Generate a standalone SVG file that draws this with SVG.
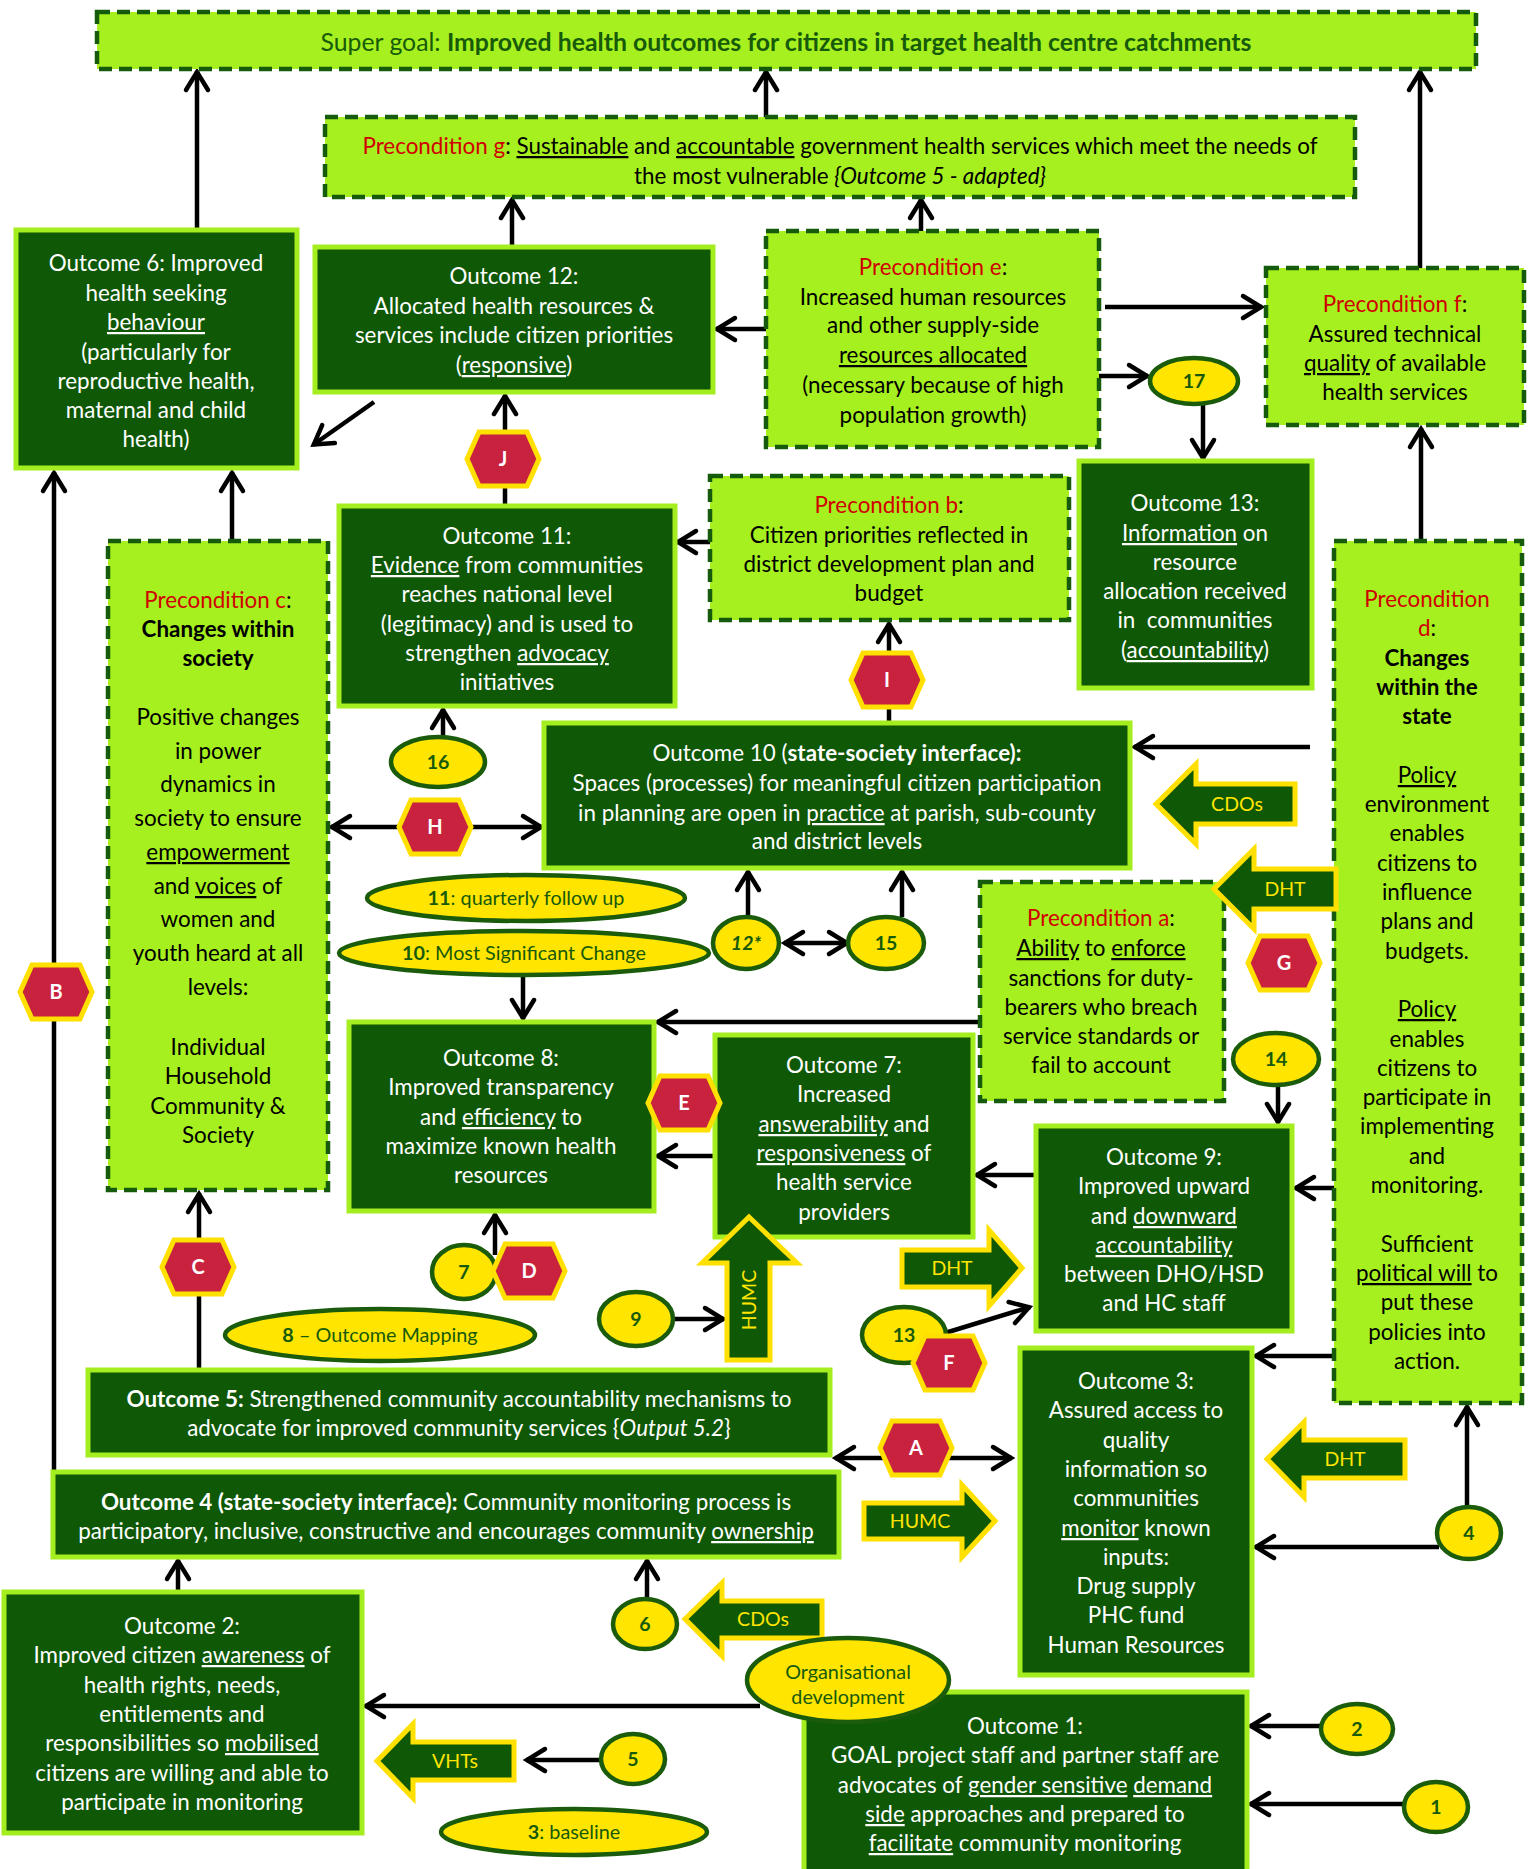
<svg xmlns="http://www.w3.org/2000/svg" width="1536" height="1869" viewBox="0 0 1536 1869">
<style>
text{font-family:Lato,"Liberation Sans",sans-serif;font-size:22.4px;text-anchor:middle}
.dk{fill:#0F5806;stroke:#A4EE1F;stroke-width:5}
.lm{fill:#A6F01F;stroke:#165A0B;stroke-width:4.5;stroke-dasharray:13 7}
.w{fill:#fff}
.k{fill:#000}
.r{fill:#D00000}
.g{fill:#165A0A}
.y{fill:#FFE500}
.el{fill:#FFE500;stroke:#1A5C0B;stroke-width:4.5}
.hx{fill:#C9223F;stroke:#FFE000;stroke-width:5}
.ba{fill:#0F5806;stroke:#FFE000;stroke-width:5}
.c{stroke:#000;stroke-width:4.5;fill:none;marker-end:url(#ah)}
.d2{marker-start:url(#ah)}
.u{text-decoration:underline}
.bd{font-weight:bold}
.it{font-style:italic}
.n{font-size:19.5px;font-weight:bold;fill:#165A0A}
.s{font-size:19.8px;fill:#165A0A}
.hl{font-size:20px;font-weight:bold;fill:#fff}
.bt{font-size:19.5px;fill:#FFE500}
</style>
<defs>
<marker id="ah" markerUnits="userSpaceOnUse" viewBox="-24 -14 28 28" markerWidth="28" markerHeight="28" refX="0" refY="0" orient="auto-start-reverse" overflow="visible">
<path d="M-19,-11 L-1,0 L-19,11" fill="none" stroke="#000" stroke-width="4.5" stroke-linecap="round"/>
</marker>
<path id="hex" d="M-36,0 L-24,-27 L24,-27 L36,0 L24,27 L-24,27 Z"/>
</defs>
<rect width="1536" height="1869" fill="#fff"/>

<g id="connectors">
<path class="c" d="M766,117 L766,71"/>
<path class="c" d="M197,230 L197,71"/>
<path class="c" d="M1420,268 L1420,71"/>
<path class="c" d="M512,247 L512,199"/>
<path class="c" d="M921,231 L921,199"/>
<path class="c" d="M766,329 L716,329"/>
<path class="c" d="M374,402 L313,445"/>
<path class="c" d="M1105,307 L1262,307"/>
<path class="c" d="M1099,376 L1148,376"/>
<path class="c" d="M1203,405 L1203,459"/>
<path class="c" d="M1421,541 L1421,428"/>
<path class="c" d="M505,506 L505,395"/>
<path class="c" d="M710,542 L677,542"/>
<path class="c" d="M889,723 L889,623"/>
<path class="c" d="M443,737 L443,709"/>
<path class="c" d="M232,541 L232,472"/>
<path class="c" d="M54,1472 L54,472"/>
<path class="c d2" d="M331,827 L542,827"/>
<path class="c" d="M1310,747 L1134,747"/>
<path class="c" d="M748,917 L748,871"/>
<path class="c" d="M902,917 L902,871"/>
<path class="c d2" d="M784,943 L848,943"/>
<path class="c" d="M523,977 L523,1019"/>
<path class="c" d="M980,1022 L657,1022"/>
<path class="c" d="M1278,1085 L1278,1123"/>
<path class="c" d="M1334,1188 L1295,1188"/>
<path class="c" d="M1036,1175 L976,1175"/>
<path class="c" d="M713,1156 L657,1156"/>
<path class="c" d="M495,1255 L495,1214"/>
<path class="c" d="M673,1319 L724,1319"/>
<path class="c" d="M945,1333 L1030,1307"/>
<path class="c" d="M199,1368 L199,1193"/>
<path class="c d2" d="M835,1458 L1012,1458"/>
<path class="c" d="M1334,1356 L1255,1356"/>
<path class="c" d="M1439,1547 L1255,1547"/>
<path class="c" d="M1467,1507 L1467,1406"/>
<path class="c" d="M647,1599 L647,1560"/>
<path class="c" d="M178,1592 L178,1560"/>
<path class="c" d="M760,1706 L365,1706"/>
<path class="c" d="M601,1760 L526,1760"/>
<path class="c" d="M1321,1726 L1250,1726"/>
<path class="c" d="M1404,1804 L1250,1804"/>
</g>

<g id="n-supergoal">
<rect class="lm" x="97" y="12" width="1379" height="57"/>
<text x="786" y="51" class="g" style="font-size:24.8px">Super goal: <tspan class="bd">Improved health outcomes for citizens in target health centre catchments</tspan></text>
</g>

<g id="n-precg">
<rect class="lm" x="325" y="117" width="1030" height="80"/>
<text x="840" y="154" class="k"><tspan class="r">Precondition g</tspan>: <tspan class="u">Sustainable</tspan> and <tspan class="u">accountable</tspan> government health services which meet the needs of</text>
<text x="840" y="184" class="k">the most vulnerable <tspan class="it">{Outcome 5 - adapted}</tspan></text>
</g>

<g id="n-out6">
<rect class="dk" x="16" y="230" width="281" height="238"/>
<text class="w" x="156" y="271">Outcome 6: Improved</text>
<text class="w" x="156" y="301">health seeking</text>
<text class="w" x="156" y="330"><tspan class="u">behaviour</tspan></text>
<text class="w" x="156" y="360">(particularly for</text>
<text class="w" x="156" y="389">reproductive health,</text>
<text class="w" x="156" y="418">maternal and child</text>
<text class="w" x="156" y="447">health)</text>
</g>

<g id="n-out12">
<rect class="dk" x="315" y="247" width="398" height="145"/>
<text class="w" x="514" y="284">Outcome 12:</text>
<text class="w" x="514" y="314">Allocated health resources &amp;</text>
<text class="w" x="514" y="343">services include citizen priorities</text>
<text class="w" x="514" y="373">(<tspan class="u">responsive</tspan>)</text>
</g>

<g id="n-prece">
<rect class="lm" x="766" y="231" width="333" height="216"/>
<text class="k" x="933" y="275"><tspan class="r">Precondition e</tspan>:</text>
<text class="k" x="933" y="305">Increased human resources</text>
<text class="k" x="933" y="333">and other supply-side</text>
<text class="k" x="933" y="363"><tspan class="u">resources allocated</tspan></text>
<text class="k" x="933" y="393">(necessary because of high</text>
<text class="k" x="933" y="423">population growth)</text>
</g>

<g id="n-precf">
<rect class="lm" x="1266" y="268" width="258" height="157"/>
<text class="k" x="1395" y="312"><tspan class="r">Precondition f</tspan>:</text>
<text class="k" x="1395" y="342">Assured technical</text>
<text class="k" x="1395" y="371"><tspan class="u">quality</tspan> of available</text>
<text class="k" x="1395" y="400">health services</text>
</g>

<g id="n-out13">
<rect class="dk" x="1079" y="461" width="233" height="227"/>
<text class="w" x="1195" y="511">Outcome 13:</text>
<text class="w" x="1195" y="541"><tspan class="u">Information</tspan> on</text>
<text class="w" x="1195" y="570">resource</text>
<text class="w" x="1195" y="599">allocation received</text>
<text class="w" x="1195" y="628" xml:space="preserve">in  communities</text>
<text class="w" x="1195" y="658">(<tspan class="u">accountability</tspan>)</text>
</g>

<g id="n-precd">
<rect class="lm" x="1334" y="541" width="188" height="862"/>
<text class="r" x="1427" y="607">Precondition</text>
<text class="k" x="1427" y="636"><tspan class="r">d</tspan>:</text>
<text class="k bd" x="1427" y="666">Changes</text>
<text class="k bd" x="1427" y="695">within the</text>
<text class="k bd" x="1427" y="724">state</text>
<text class="k" x="1427" y="783"><tspan class="u">Policy</tspan></text>
<text class="k" x="1427" y="812">environment</text>
<text class="k" x="1427" y="841">enables</text>
<text class="k" x="1427" y="871">citizens to</text>
<text class="k" x="1427" y="900">influence</text>
<text class="k" x="1427" y="929">plans and</text>
<text class="k" x="1427" y="959">budgets.</text>
<text class="k" x="1427" y="1017"><tspan class="u">Policy</tspan></text>
<text class="k" x="1427" y="1047">enables</text>
<text class="k" x="1427" y="1076">citizens to</text>
<text class="k" x="1427" y="1105">participate in</text>
<text class="k" x="1427" y="1134">implementing</text>
<text class="k" x="1427" y="1164">and</text>
<text class="k" x="1427" y="1193">monitoring.</text>
<text class="k" x="1427" y="1252">Sufficient</text>
<text class="k" x="1427" y="1281"><tspan class="u">political will</tspan> to</text>
<text class="k" x="1427" y="1310">put these</text>
<text class="k" x="1427" y="1340">policies into</text>
<text class="k" x="1427" y="1369">action.</text>
</g>

<g id="n-precc">
<rect class="lm" x="108" y="541" width="220" height="649"/>
<text class="k" x="218" y="608"><tspan class="r">Precondition c</tspan>:</text>
<text class="k bd" x="218" y="637">Changes within</text>
<text class="k bd" x="218" y="666">society</text>
<text class="k" x="218" y="725">Positive changes</text>
<text class="k" x="218" y="759">in power</text>
<text class="k" x="218" y="792">dynamics in</text>
<text class="k" x="218" y="826">society to ensure</text>
<text class="k" x="218" y="860"><tspan class="u">empowerment</tspan></text>
<text class="k" x="218" y="894">and <tspan class="u">voices</tspan> of</text>
<text class="k" x="218" y="927">women and</text>
<text class="k" x="218" y="961">youth heard at all</text>
<text class="k" x="218" y="995">levels:</text>
<text class="k" x="218" y="1055">Individual</text>
<text class="k" x="218" y="1084">Household</text>
<text class="k" x="218" y="1114">Community &amp;</text>
<text class="k" x="218" y="1143">Society</text>
</g>

<g id="n-out11">
<rect class="dk" x="339" y="506" width="336" height="200"/>
<text class="w" x="507" y="544">Outcome 11:</text>
<text class="w" x="507" y="573"><tspan class="u">Evidence</tspan> from communities</text>
<text class="w" x="507" y="602">reaches national level</text>
<text class="w" x="507" y="632">(legitimacy) and is used to</text>
<text class="w" x="507" y="661">strengthen <tspan class="u">advocacy</tspan></text>
<text class="w" x="507" y="690">initiatives</text>
</g>

<g id="n-precb">
<rect class="lm" x="710" y="476" width="359" height="144"/>
<text class="k" x="889" y="513"><tspan class="r">Precondition b</tspan>:</text>
<text class="k" x="889" y="543">Citizen priorities reflected in</text>
<text class="k" x="889" y="572">district development plan and</text>
<text class="k" x="889" y="601">budget</text>
</g>

<g id="n-out10">
<rect class="dk" x="544" y="723" width="586" height="145"/>
<text class="w" x="837" y="761">Outcome 10 (<tspan class="bd">state-society interface):</tspan></text>
<text class="w" x="837" y="791">Spaces (processes) for meaningful citizen participation</text>
<text class="w" x="837" y="821">in planning are open in <tspan class="u">practice</tspan> at parish, sub-county</text>
<text class="w" x="837" y="849">and district levels</text>
</g>

<g id="n-preca">
<rect class="lm" x="980" y="882" width="244" height="219"/>
<text class="k" x="1101" y="926"><tspan class="r">Precondition a</tspan>:</text>
<text class="k" x="1101" y="956"><tspan class="u">Ability</tspan> to <tspan class="u">enforce</tspan></text>
<text class="k" x="1101" y="986">sanctions for duty-</text>
<text class="k" x="1101" y="1015">bearers who breach</text>
<text class="k" x="1101" y="1044">service standards or</text>
<text class="k" x="1101" y="1073">fail to account</text>
</g>

<g id="n-out9">
<rect class="dk" x="1036" y="1126" width="256" height="205"/>
<text class="w" x="1164" y="1165">Outcome 9:</text>
<text class="w" x="1164" y="1194">Improved upward</text>
<text class="w" x="1164" y="1224">and <tspan class="u">downward</tspan></text>
<text class="w" x="1164" y="1253"><tspan class="u">accountability</tspan></text>
<text class="w" x="1164" y="1282">between DHO/HSD</text>
<text class="w" x="1164" y="1311">and HC staff</text>
</g>

<g id="n-out8">
<rect class="dk" x="349" y="1022" width="305" height="189"/>
<text class="w" x="501" y="1066">Outcome 8:</text>
<text class="w" x="501" y="1095">Improved transparency</text>
<text class="w" x="501" y="1125">and <tspan class="u">efficiency</tspan> to</text>
<text class="w" x="501" y="1154">maximize known health</text>
<text class="w" x="501" y="1183">resources</text>
</g>

<g id="n-out7">
<rect class="dk" x="715" y="1035" width="258" height="202"/>
<text class="w" x="844" y="1073">Outcome 7:</text>
<text class="w" x="844" y="1102">Increased</text>
<text class="w" x="844" y="1132"><tspan class="u">answerability</tspan> and</text>
<text class="w" x="844" y="1161"><tspan class="u">responsiveness</tspan> of</text>
<text class="w" x="844" y="1190">health service</text>
<text class="w" x="844" y="1220">providers</text>
</g>

<g id="n-out5">
<rect class="dk" x="88" y="1370" width="742" height="85"/>
<text class="w" x="459" y="1407"><tspan class="bd">Outcome 5:</tspan> Strengthened community accountability mechanisms to</text>
<text class="w" x="459" y="1436">advocate for improved community services {<tspan class="it">Output 5.2</tspan>}</text>
</g>

<g id="n-out4">
<rect class="dk" x="53" y="1472" width="786" height="85"/>
<text class="w" x="446" y="1510"><tspan class="bd">Outcome 4 (state-society interface):</tspan> Community monitoring process is</text>
<text class="w" x="446" y="1539">participatory, inclusive, constructive and encourages community <tspan class="u">ownership</tspan></text>
</g>

<g id="n-out3">
<rect class="dk" x="1020" y="1348" width="232" height="327"/>
<text class="w" x="1136" y="1389">Outcome 3:</text>
<text class="w" x="1136" y="1418">Assured access to</text>
<text class="w" x="1136" y="1448">quality</text>
<text class="w" x="1136" y="1477">information so</text>
<text class="w" x="1136" y="1506">communities</text>
<text class="w" x="1136" y="1536"><tspan class="u">monitor</tspan> known</text>
<text class="w" x="1136" y="1565">inputs:</text>
<text class="w" x="1136" y="1594">Drug supply</text>
<text class="w" x="1136" y="1623">PHC fund</text>
<text class="w" x="1136" y="1653">Human Resources</text>
</g>

<g id="n-out2">
<rect class="dk" x="4" y="1592" width="358" height="241"/>
<text class="w" x="182" y="1634">Outcome 2:</text>
<text class="w" x="182" y="1663">Improved citizen <tspan class="u">awareness</tspan> of</text>
<text class="w" x="182" y="1693">health rights, needs,</text>
<text class="w" x="182" y="1722">entitlements and</text>
<text class="w" x="182" y="1751">responsibilities so <tspan class="u">mobilised</tspan></text>
<text class="w" x="182" y="1781">citizens are willing and able to</text>
<text class="w" x="182" y="1810">participate in monitoring</text>
</g>

<g id="n-out1">
<rect class="dk" x="804" y="1692" width="443" height="185"/>
<text class="w" x="1025" y="1734">Outcome 1:</text>
<text class="w" x="1025" y="1763">GOAL project staff and partner staff are</text>
<text class="w" x="1025" y="1793">advocates of <tspan class="u">gender sensitive</tspan> <tspan class="u">demand</tspan></text>
<text class="w" x="1025" y="1822"><tspan class="u">side</tspan> approaches and prepared to</text>
<text class="w" x="1025" y="1851"><tspan class="u">facilitate</tspan> community monitoring</text>
</g>

<g id="block-arrows">
<g id="ba-cdos-top"><polygon class="ba" points="1156,804 1196,764 1196,784 1295,784 1295,824 1196,824 1196,844"/><text class="bt" x="1237" y="811">CDOs</text></g>
<g id="ba-dht-a"><polygon class="ba" points="1214,889 1254,849 1254,869 1336,869 1336,909 1254,909 1254,929"/><text class="bt" x="1285" y="896">DHT</text></g>
<g id="ba-dht-3"><polygon class="ba" points="1267,1459 1304,1422 1304,1440 1405,1440 1405,1478 1304,1478 1304,1497"/><text class="bt" x="1345" y="1466">DHT</text></g>
<g id="ba-cdos-bot"><polygon class="ba" points="685,1619 722,1583 722,1601 822,1601 822,1638 722,1638 722,1656"/><text class="bt" x="763" y="1626">CDOs</text></g>
<g id="ba-vhts"><polygon class="ba" points="377,1761 413,1724 413,1742 514,1742 514,1780 413,1780 413,1798"/><text class="bt" x="455" y="1768">VHTs</text></g>
<g id="ba-dht-9"><polygon class="ba" points="1022,1268 989,1230 989,1250 902,1250 902,1287 989,1287 989,1306"/><text class="bt" x="952" y="1275">DHT</text></g>
<g id="ba-humc-r"><polygon class="ba" points="995,1521 962,1485 962,1503 864,1503 864,1539 962,1539 962,1557"/><text class="bt" x="920" y="1528">HUMC</text></g>
<g id="ba-humc-up"><polygon class="ba" points="749,1217 797,1263 770,1263 770,1360 727,1360 727,1263 702,1263"/><text class="bt" transform="translate(749,1300) rotate(-90)" y="7">HUMC</text></g>
</g>

<g id="ellipses">
<g id="e17"><ellipse class="el" cx="1194" cy="381" rx="44" ry="23"/><text class="n" x="1194" y="388">17</text></g>
<g id="e16"><ellipse class="el" cx="438" cy="762" rx="47" ry="25"/><text class="n" x="438" y="769">16</text></g>
<g id="e11"><ellipse class="el" cx="526" cy="898" rx="159" ry="23"/><text class="s" x="526" y="905"><tspan class="bd">11</tspan>: quarterly follow up</text></g>
<g id="e10"><ellipse class="el" cx="524" cy="953" rx="185" ry="22"/><text class="s" x="524" y="960"><tspan class="bd">10</tspan>: Most Significant Change</text></g>
<g id="e12"><ellipse class="el" cx="746" cy="943" rx="33" ry="26"/><text class="n it" x="746" y="950">12*</text></g>
<g id="e15"><ellipse class="el" cx="886" cy="943" rx="38" ry="26"/><text class="n" x="886" y="950">15</text></g>
<g id="e14"><ellipse class="el" cx="1276" cy="1059" rx="43" ry="26"/><text class="n" x="1276" y="1066">14</text></g>
<g id="e7"><ellipse class="el" cx="464" cy="1272" rx="32" ry="27"/><text class="n" x="464" y="1279">7</text></g>
<g id="e9"><ellipse class="el" cx="636" cy="1319" rx="37" ry="27"/><text class="n" x="636" y="1326">9</text></g>
<g id="e13"><ellipse class="el" cx="904" cy="1335" rx="42" ry="28"/><text class="n" x="904" y="1342">13</text></g>
<g id="e8"><ellipse class="el" cx="380" cy="1335" rx="155" ry="26"/><text class="s" x="380" y="1342"><tspan class="bd">8</tspan> – Outcome Mapping</text></g>
<g id="e6"><ellipse class="el" cx="645" cy="1624" rx="32" ry="25"/><text class="n" x="645" y="1631">6</text></g>
<g id="e-org"><ellipse class="el" cx="848" cy="1680" rx="101" ry="42"/><text class="s" x="848" y="1679">Organisational</text><text class="s" x="848" y="1704">development</text></g>
<g id="e5"><ellipse class="el" cx="633" cy="1759" rx="32" ry="25"/><text class="n" x="633" y="1766">5</text></g>
<g id="e3"><ellipse class="el" cx="574" cy="1832" rx="133" ry="23"/><text class="s" x="574" y="1839"><tspan class="bd">3</tspan>: baseline</text></g>
<g id="e2"><ellipse class="el" cx="1357" cy="1729" rx="36" ry="25"/><text class="n" x="1357" y="1736">2</text></g>
<g id="e1"><ellipse class="el" cx="1436" cy="1807" rx="32" ry="25"/><text class="n" x="1436" y="1814">1</text></g>
<g id="e4"><ellipse class="el" cx="1469" cy="1533" rx="32" ry="26"/><text class="n" x="1469" y="1540">4</text></g>
</g>

<g id="hexagons">
<g id="hJ"><use href="#hex" class="hx" x="503" y="459"/><text class="hl" x="503" y="466">J</text></g>
<g id="hI"><use href="#hex" class="hx" x="887" y="680"/><text class="hl" x="887" y="687">I</text></g>
<g id="hH"><use href="#hex" class="hx" x="435" y="827"/><text class="hl" x="435" y="834">H</text></g>
<g id="hB"><use href="#hex" class="hx" x="56" y="992"/><text class="hl" x="56" y="999">B</text></g>
<g id="hG"><use href="#hex" class="hx" x="1284" y="963"/><text class="hl" x="1284" y="970">G</text></g>
<g id="hE"><use href="#hex" class="hx" x="684" y="1103"/><text class="hl" x="684" y="1110">E</text></g>
<g id="hC"><use href="#hex" class="hx" x="198" y="1267"/><text class="hl" x="198" y="1274">C</text></g>
<g id="hD"><use href="#hex" class="hx" x="529" y="1271"/><text class="hl" x="529" y="1278">D</text></g>
<g id="hF"><use href="#hex" class="hx" x="949" y="1363"/><text class="hl" x="949" y="1370">F</text></g>
<g id="hA"><use href="#hex" class="hx" x="916" y="1448"/><text class="hl" x="916" y="1455">A</text></g>
</g>
</svg>
